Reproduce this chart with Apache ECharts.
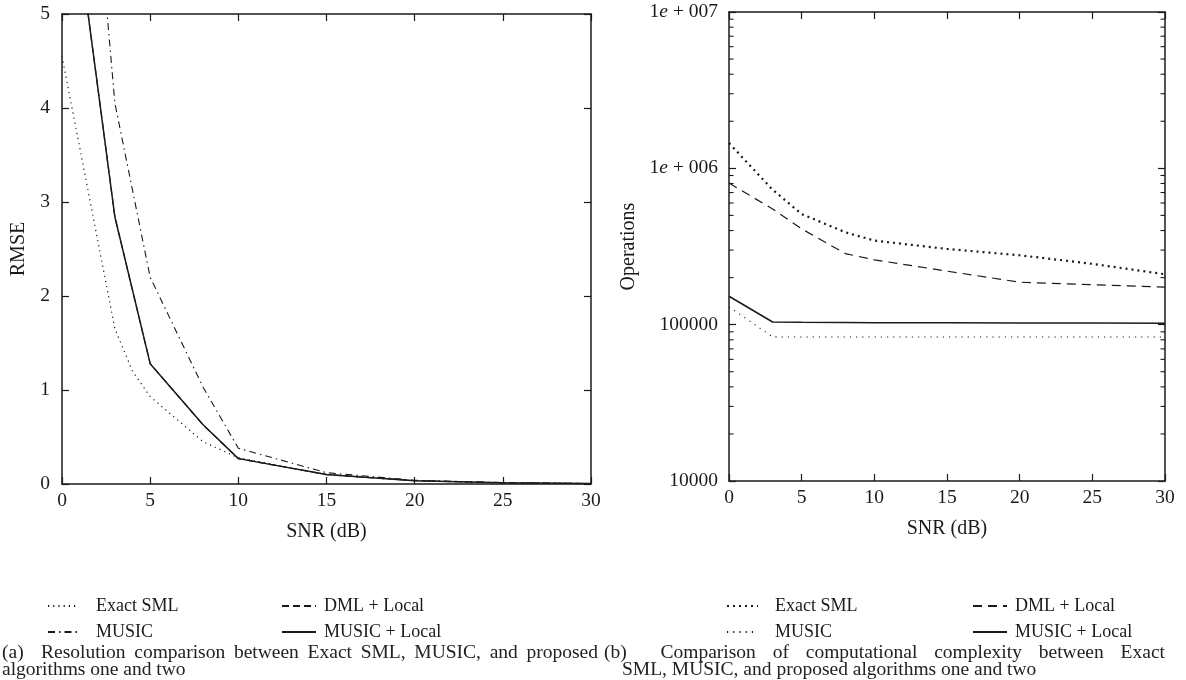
<!DOCTYPE html>
<html>
<head>
<meta charset="utf-8">
<script src="https://cdn.jsdelivr.net/npm/echarts@6/dist/echarts.min.js"></script>
<style>
  html, body { margin: 0; padding: 0; background: #fff; }
  #wrap { position: relative; width: 1186px; height: 680px; overflow: hidden; }
  #chartA { position: absolute; left: 0; top: 0; width: 600px; height: 680px; }
  #chartB { position: absolute; left: 600px; top: 0; width: 586px; height: 680px; }
  .cap { position: absolute; font-family: "Liberation Serif", serif; font-size: 19.5px; line-height: 17px; color: #222; white-space: nowrap; }
  .just { text-align: justify; text-align-last: justify; white-space: normal; }
</style>
</head>
<body>
<div id="wrap">
  <div id="chartA"></div>
  <div id="chartB"></div>
  <div class="cap just" style="left:2px; top:643px; width:596px;">(a)&nbsp; Resolution comparison between Exact SML, MUSIC, and proposed</div>
  <div class="cap" style="left:2px; top:660px;">algorithms one and two</div>
  <div class="cap just" style="left:604px; top:643px; width:561px;">(b)&nbsp; Comparison of computational complexity between Exact</div>
  <div class="cap" style="left:622px; top:660px;">SML, MUSIC, and proposed algorithms one and two</div>
</div>
<script>
// ---------- data: chart (a) RMSE ----------
const snrA = [0, 3, 5, 8, 10, 15, 20, 25, 30];
const snrExactA = [0, 3, 4, 5, 8, 10, 15, 20, 25, 30];
const rmseExactSML = [4.55, 1.65, 1.2, 0.93, 0.45, 0.28, 0.1, 0.035, 0.012, 0.004];
const rmseMUSIC = [10.5, 4.05, 2.2, 1.03, 0.38, 0.12, 0.04, 0.015, 0.005];
const rmseDMLLocal = [7.1, 2.84, 1.28, 0.63, 0.27, 0.1, 0.035, 0.012, 0.004];
const rmseMUSICLocal = [7.1, 2.84, 1.28, 0.63, 0.27, 0.1, 0.035, 0.012, 0.004];
const xTicksA = [0, 5, 10, 15, 20, 25, 30];
const yTicksA = [0, 1, 2, 3, 4, 5];

// ---------- data: chart (b) Operations ----------
const snrB = [0, 3, 5, 8, 10, 15, 20, 25, 30];
const opsExactSML = [1450000, 730000, 510000, 390000, 345000, 305000, 278000, 245000, 210000];
const opsMUSIC = [130000, 83500, 83400, 83400, 83400, 83300, 83300, 83300, 83300];
const opsDMLLocal = [805000, 550000, 410000, 285000, 260000, 220000, 187000, 180000, 174000];
const opsMUSICLocal = [152000, 104000, 103500, 103300, 103000, 102800, 102600, 102400, 102200];
const minorTicksB = [20000, 30000, 40000, 50000, 60000, 70000, 80000, 90000,
                     200000, 300000, 400000, 500000, 600000, 700000, 800000, 900000,
                     2000000, 3000000, 4000000, 5000000, 6000000, 7000000, 8000000, 9000000];

const FONT = '"Liberation Serif", serif';
const INK = '#1a1a1a';
const TICK_FS = 19.5;
const NAME_FS = 20;
const LEG_FS = 18;
const pairs = (xs, ys) => xs.map((x, i) => [x, ys[i]]);

function frameAxis(pos, extra) {
  return Object.assign({
    position: pos,
    axisLine: { show: true, onZero: false, lineStyle: { color: INK, width: 1.5 } },
    axisTick: { show: true, inside: true, length: 7, lineStyle: { color: INK, width: 1.2 } },
    axisLabel: { show: false },
    splitLine: { show: false }
  }, extra);
}
const labelStyle = { show: true, fontFamily: FONT, fontSize: TICK_FS, color: INK };
const nameStyle = { fontFamily: FONT, fontSize: NAME_FS, color: INK };

function lineSeries(name, data, lw, dash) {
  return {
    name, type: 'line', data,
    symbol: 'none', showSymbol: false, clip: true, smooth: false,
    lineStyle: { color: INK, width: lw, type: dash },
    itemStyle: { color: INK },
    emphasis: { disabled: true }, z: 3
  };
}
function legendCol(names, left, top, w, pad) {
  return {
    data: names, orient: 'vertical', left, top, padding: 0,
    itemWidth: w, itemHeight: 14, itemGap: 8,
    selectedMode: false,
    itemStyle: { opacity: 0, borderWidth: 0 },
    textStyle: { fontFamily: FONT, fontSize: LEG_FS, color: INK, padding: [0, 0, 0, pad] }
  };
}

// ---------- chart (a) ----------
const chartA = echarts.init(document.getElementById('chartA'), null, { renderer: 'canvas' });
chartA.setOption({
  animation: false,
  backgroundColor: '#fff',
  grid: { left: 62, right: 9, top: 14, bottom: 196, containLabel: false, outerBoundsMode: 'none' },
  xAxis: [
    frameAxis('bottom', { type: 'value', min: xTicksA[0], max: xTicksA[xTicksA.length - 1], interval: 5,
      axisLabel: Object.assign({}, labelStyle, { margin: 7 }),
      name: 'SNR (dB)', nameLocation: 'middle', nameGap: 38, nameTextStyle: nameStyle }),
    frameAxis('top', { type: 'value', min: 0, max: 30, interval: 5 })
  ],
  yAxis: [
    frameAxis('left', { type: 'value', min: yTicksA[0], max: yTicksA[yTicksA.length - 1], interval: 1,
      axisLabel: Object.assign({}, labelStyle, { margin: 12 }),
      name: 'RMSE', nameLocation: 'middle', nameGap: 33, nameRotate: 90, nameTextStyle: nameStyle }),
    frameAxis('right', { type: 'value', min: 0, max: 5, interval: 1 })
  ],
  legend: [
    legendCol(['Exact SML', 'MUSIC'], 47, 597, 31, 12),
    legendCol(['DML + Local', 'MUSIC + Local'], 281, 597, 34, 3)
  ],
  series: [
    lineSeries('Exact SML', pairs(snrExactA, rmseExactSML), 1.2, [1.2, 4]),
    lineSeries('MUSIC', pairs(snrA, rmseMUSIC), 1.1, [7, 4, 1.5, 4]),
    lineSeries('DML + Local', pairs(snrA, rmseDMLLocal), 1.2, [7, 4]),
    lineSeries('MUSIC + Local', pairs(snrA, rmseMUSICLocal), 1.5, 'solid')
  ]
});

// ---------- chart (b) ----------
const chartB = echarts.init(document.getElementById('chartB'), null, { renderer: 'canvas' });
function logLabel(v) {
  const e = Math.round(Math.log10(v));
  if (e >= 6) return '1{i|e} + ' + String(e).padStart(3, '0');
  return String(Math.round(v));
}
chartB.setOption({
  animation: false,
  backgroundColor: '#fff',
  grid: { left: 129, right: 21, top: 12, bottom: 199, containLabel: false, outerBoundsMode: 'none' },
  xAxis: [
    frameAxis('bottom', { type: 'value', min: 0, max: 30, interval: 5,
      axisLabel: Object.assign({}, labelStyle, { margin: 7 }),
      name: 'SNR (dB)', nameLocation: 'middle', nameGap: 38, nameTextStyle: nameStyle }),
    frameAxis('top', { type: 'value', min: 0, max: 30, interval: 5 })
  ],
  yAxis: [
    frameAxis('left', { type: 'log', logBase: 10, min: 10000, max: 10000000,
      axisLabel: Object.assign({}, labelStyle, { margin: 11, formatter: logLabel,
        rich: { i: { fontFamily: FONT, fontSize: TICK_FS, fontStyle: 'italic', color: INK } } }),
      name: 'Operations', nameLocation: 'middle', nameGap: 84, nameRotate: 90, nameTextStyle: nameStyle }),
    frameAxis('right', { type: 'log', logBase: 10, min: 10000, max: 10000000 })
  ],
  legend: [
    legendCol(['Exact SML', 'MUSIC'], 126, 597, 31, 12),
    legendCol(['DML + Local', 'MUSIC + Local'], 372, 597, 34, 3)
  ],
  series: [
    lineSeries('Exact SML', pairs(snrB, opsExactSML), 2.2, [2, 4]),
    lineSeries('MUSIC', pairs(snrB, opsMUSIC), 1.1, [1.2, 5]),
    lineSeries('DML + Local', pairs(snrB, opsDMLLocal), 1.2, [9, 6]),
    lineSeries('MUSIC + Local', pairs(snrB, opsMUSICLocal), 1.5, 'solid'),
    {
      name: 'minor ticks', type: 'custom', silent: true, z: 5,
      data: minorTicksB.map(v => [0, v]),
      renderItem: function (params, api) {
        const v = api.value(1);
        const pL = api.coord([0, v]);
        const pR = api.coord([30, v]);
        const st = { stroke: INK, lineWidth: 1.1 };
        return { type: 'group', children: [
          { type: 'line', shape: { x1: pL[0], y1: pL[1], x2: pL[0] + 4.5, y2: pL[1] }, style: st },
          { type: 'line', shape: { x1: pR[0] - 4.5, y1: pR[1], x2: pR[0], y2: pR[1] }, style: st }
        ] };
      }
    }
  ]
});
</script>
</body>
</html>
